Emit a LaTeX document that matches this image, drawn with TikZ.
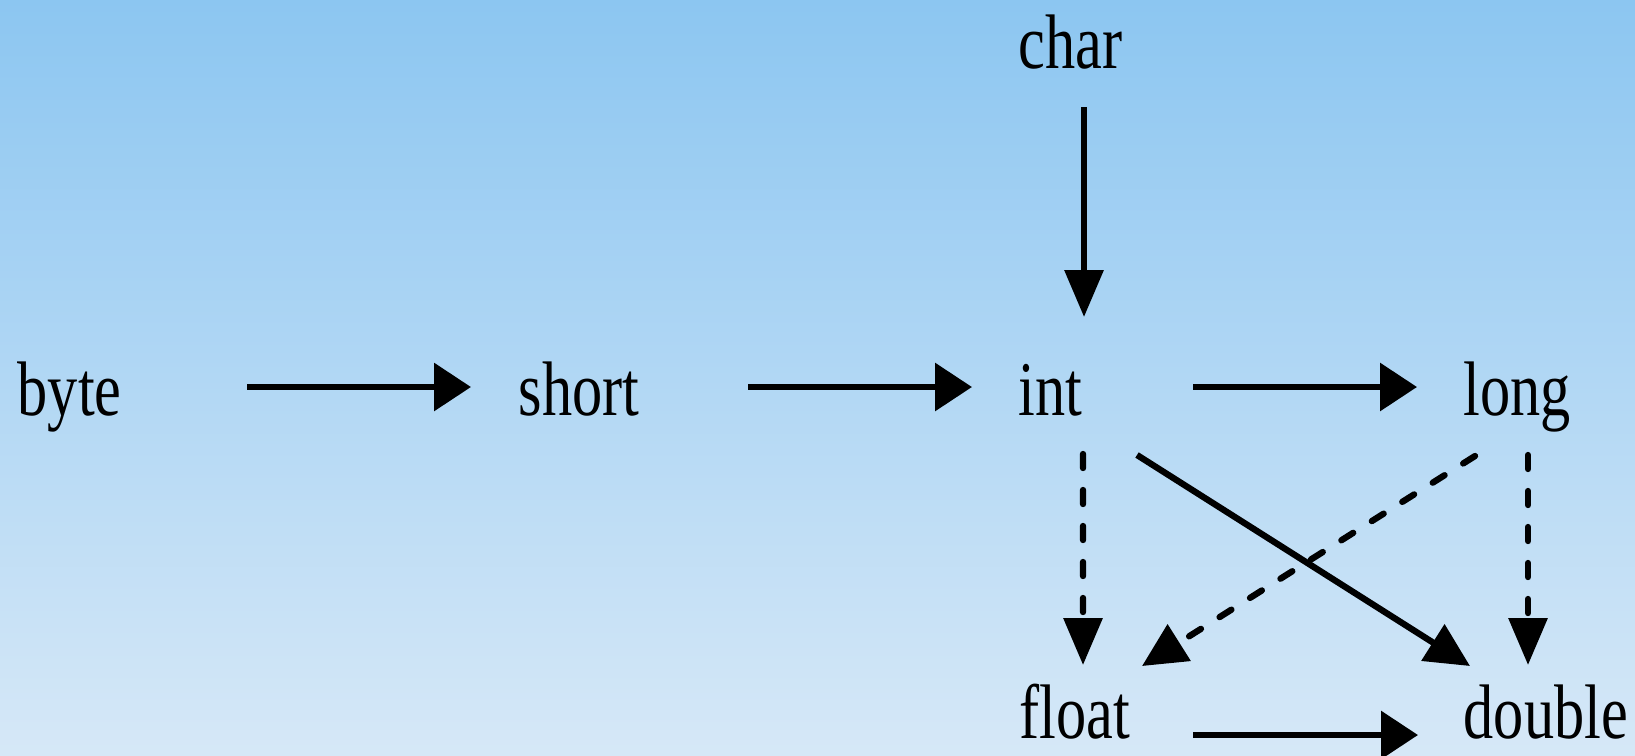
\documentclass[tikz,border=0pt]{standalone}
\usepackage{fontspec}
\newfontfamily\labelfont{Liberation Serif}[FakeStretch=0.78]
\usetikzlibrary{arrows.meta}
\definecolor{skytop}{RGB}{140,198,241}
\definecolor{skybottom}{RGB}{214,232,247}
\begin{document}
\begin{tikzpicture}[
    lbl/.style={anchor=base west, inner sep=0pt, font=\labelfont\fontsize{22}{26}\selectfont},
    conn/.style={line width=1.8pt},
    harrow/.style={conn, -{Triangle[length=0.37cm,width=0.47cm]}},
    varrow/.style={conn, -{Triangle[length=0.47cm,width=0.38cm]}},
    darrow/.style={conn, -{Triangle[length=0.44cm,width=0.42cm]}},
    broken/.style={line cap=round, dash pattern=on 0.14cm off 0.22cm}
]
            \shade[top color=skytop, bottom color=skybottom] (0,0) rectangle (16.35,7.55);
            \useasboundingbox (0,0) rectangle (16.35,7.55);

            \node[lbl] (byte) at (0.17, 3.40) {byte};
            \node[lbl] (short) at (5.18, 3.40) {short};
            \node[lbl] (int) at (10.18, 3.40) {int};
            \node[lbl] (long) at (14.63, 3.40) {long};
            \node[lbl] (char) at (10.18, 6.87) {char};
            \node[lbl] (float) at (10.19, 0.17) {float};
            \node[lbl] (double) at (14.63, 0.17) {double};

            % widening chain
            \draw[harrow] ([shift={(2.30,0.28)}]byte.base west) -- ([shift={(-0.47,0.28)}]short.base west);
            \draw[harrow] ([shift={(2.30,0.28)}]short.base west) -- ([shift={(-0.46,0.28)}]int.base west);
            \draw[harrow] ([shift={(1.75,0.28)}]int.base west) -- ([shift={(-0.46,0.28)}]long.base west);
            \draw[harrow] ([shift={(1.74,0.03)}]float.base west) -- ([shift={(-0.45,0.03)}]double.base west);
            \draw[varrow] ([shift={(0.66,-0.39)}]char.base west) -- ([shift={(0.66,0.98)}]int.base west);

            % may lose precision
            \draw[varrow, broken] ([shift={(0.65,-0.39)}]int.base west) -- ([shift={(0.64,0.73)}]float.base west);
            \draw[varrow, broken] ([shift={(0.65,-0.40)}]long.base west) -- ([shift={(0.65,0.73)}]double.base west);
            \draw[darrow, broken] ([shift={(0.12,-0.41)}]long.base west) -- ([shift={(1.23,0.72)}]float.base west);
            \draw[darrow] ([shift={(1.19,-0.40)}]int.base west) -- ([shift={(0.07,0.72)}]double.base west);
\end{tikzpicture}
\end{document}
